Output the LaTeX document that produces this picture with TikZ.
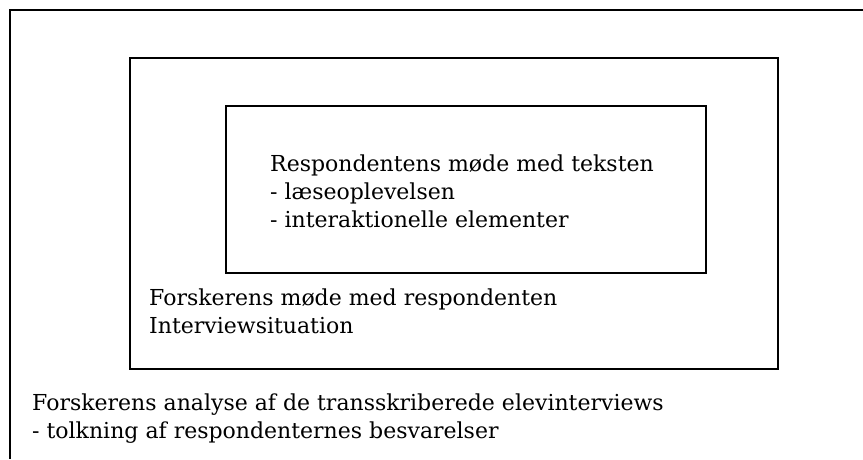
\documentclass[tikz,border=0pt]{standalone}
\usepackage{fontspec}
\setmainfont{DejaVu Serif}
\begin{document}
\begin{tikzpicture}[x=1pt,y=-1pt,
  frame/.style={draw=black,line width=1.9pt},
  txt/.style={anchor=base west,inner sep=0pt,font=\fontsize{22}{28}\selectfont}]
\useasboundingbox (0,0) rectangle (863,459);
% outer frame: only top and left sides lie inside the page
\draw[frame] (863,10) -- (10,10) -- (10,459);
% middle and inner boxes
\draw[frame] (130,58) rectangle (778,369);
\draw[frame] (226,106) rectangle (706,273);
% inner box text
\node[txt] (r1) at (270,171) {Respondentens møde med teksten};
\node[txt] (r2) at (270,199) {- læseoplevelsen};
\node[txt] (r3) at (270,227) {- interaktionelle elementer};
% middle box text
\node[txt] (m1) at (149,305) {Forskerens møde med respondenten};
\node[txt] (m2) at (149,333) {Interviewsituation};
% outer frame text
\node[txt] (o1) at (32,410) {Forskerens analyse af de transskriberede elevinterviews};
\node[txt] (o2) at (32,438) {- tolkning af respondenternes besvarelser};
\end{tikzpicture}
\end{document}
